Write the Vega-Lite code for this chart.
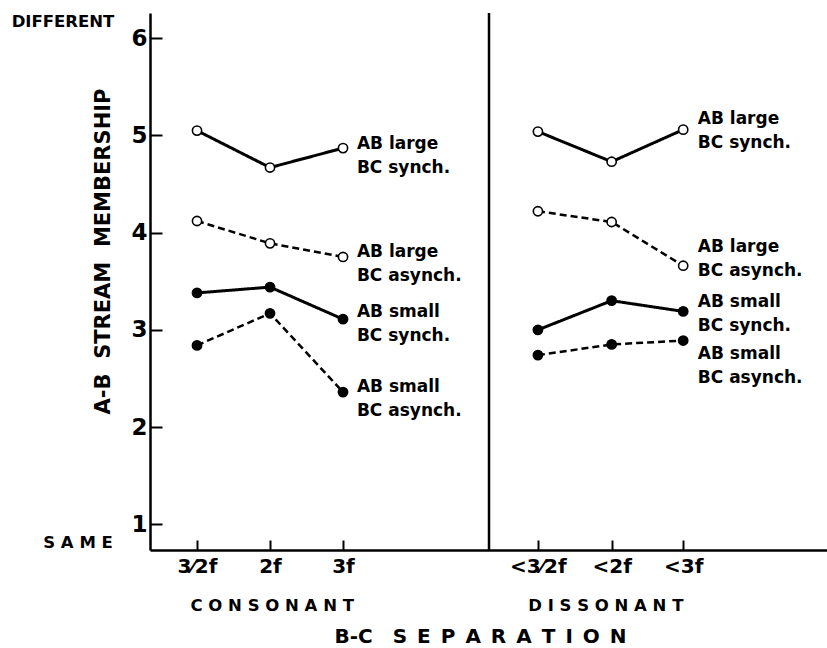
{
  "$schema": "https://vega.github.io/schema/vega-lite/v6.json",
  "width": 677,
  "height": 537,
  "autosize": {"type": "none"},
  "padding": {"left": 150, "top": 13, "right": 0, "bottom": 98},
  "background": "white",
  "config": {
    "view": {"stroke": null},
    "font": "DejaVu Sans",
    "axis": {
      "domainColor": "black", "domainWidth": 2.5, "tickColor": "black", "tickWidth": 2,
      "labelColor": "black", "titleColor": "black", "grid": false,
      "labelFont": "DejaVu Sans", "titleFont": "DejaVu Sans", "labelFontWeight": "bold", "titleFontWeight": "bold"
    }
  },
  "datasets": {
    "points": [
      {"group": "consonant", "x": 1, "ab": "large", "bc": "synch", "y": 5.05},
      {"group": "consonant", "x": 2, "ab": "large", "bc": "synch", "y": 4.67},
      {"group": "consonant", "x": 3, "ab": "large", "bc": "synch", "y": 4.87},
      {"group": "consonant", "x": 1, "ab": "large", "bc": "asynch", "y": 4.12},
      {"group": "consonant", "x": 2, "ab": "large", "bc": "asynch", "y": 3.89},
      {"group": "consonant", "x": 3, "ab": "large", "bc": "asynch", "y": 3.75},
      {"group": "consonant", "x": 1, "ab": "small", "bc": "synch", "y": 3.38},
      {"group": "consonant", "x": 2, "ab": "small", "bc": "synch", "y": 3.44},
      {"group": "consonant", "x": 3, "ab": "small", "bc": "synch", "y": 3.11},
      {"group": "consonant", "x": 1, "ab": "small", "bc": "asynch", "y": 2.84},
      {"group": "consonant", "x": 2, "ab": "small", "bc": "asynch", "y": 3.17},
      {"group": "consonant", "x": 3, "ab": "small", "bc": "asynch", "y": 2.36},
      {"group": "dissonant", "x": 5.67, "ab": "large", "bc": "synch", "y": 5.04},
      {"group": "dissonant", "x": 6.68, "ab": "large", "bc": "synch", "y": 4.73},
      {"group": "dissonant", "x": 7.66, "ab": "large", "bc": "synch", "y": 5.06},
      {"group": "dissonant", "x": 5.67, "ab": "large", "bc": "asynch", "y": 4.22},
      {"group": "dissonant", "x": 6.68, "ab": "large", "bc": "asynch", "y": 4.11},
      {"group": "dissonant", "x": 7.66, "ab": "large", "bc": "asynch", "y": 3.66},
      {"group": "dissonant", "x": 5.67, "ab": "small", "bc": "synch", "y": 3.0},
      {"group": "dissonant", "x": 6.68, "ab": "small", "bc": "synch", "y": 3.3},
      {"group": "dissonant", "x": 7.66, "ab": "small", "bc": "synch", "y": 3.19},
      {"group": "dissonant", "x": 5.67, "ab": "small", "bc": "asynch", "y": 2.74},
      {"group": "dissonant", "x": 6.68, "ab": "small", "bc": "asynch", "y": 2.85},
      {"group": "dissonant", "x": 7.66, "ab": "small", "bc": "asynch", "y": 2.89}
    ],
    "labels": [
      {"x": 3.19, "y": 4.86, "text": "AB large\nBC synch."},
      {"x": 3.19, "y": 3.75, "text": "AB large\nBC asynch."},
      {"x": 3.19, "y": 3.13, "text": "AB small\nBC synch."},
      {"x": 3.19, "y": 2.36, "text": "AB small\nBC asynch."},
      {"x": 7.86, "y": 5.12, "text": "AB large\nBC synch."},
      {"x": 7.86, "y": 3.80, "text": "AB large\nBC asynch."},
      {"x": 7.86, "y": 3.24, "text": "AB small\nBC synch."},
      {"x": 7.86, "y": 2.70, "text": "AB small\nBC asynch."}
    ],
    "notes": [
      {"x": -0.836, "y": 6.167, "text": "DIFFERENT"},
      {"x": -0.63, "y": 0.807, "text": "S A M E"},
      {"x": 2.03, "y": 0.159, "text": "C O N S O N A N T"},
      {"x": 6.6, "y": 0.159, "text": "D I S S O N A N T"}
    ],
    "divider": [{"x": 5}]
  },
  "layer": [
    {
      "data": {"name": "points"},
      "mark": {"type": "line", "color": "black"},
      "encoding": {
        "x": {
          "field": "x", "type": "quantitative",
          "scale": {"domain": [0.356, 9.63], "nice": false, "zero": false},
          "axis": {
            "values": [1, 2, 3, 5.67, 6.68, 7.66],
            "labelExpr": "datum.value == 1 ? '3⁄2f' : datum.value == 2 ? '2f' : datum.value == 3 ? '3f' : datum.value == 5.67 ? '<3⁄2f' : datum.value == 6.68 ? '<2f' : '<3f'",
            "tickSize": -10, "labelPadding": 16, "labelFontSize": 20,
            "title": "B‑C\u2003S\u2002E\u2002P\u2002A\u2002R\u2002A\u2002T\u2002I\u2002O\u2002N", "titleFontSize": 20,
            "titleX": 330, "titleY": 92, "titleAlign": "center", "titleBaseline": "alphabetic"
          }
        },
        "y": {
          "field": "y", "type": "quantitative",
          "scale": {"domain": [0.735, 6.26], "nice": false, "zero": false},
          "axis": {
            "values": [1, 2, 3, 4, 5, 6], "format": "d",
            "tickSize": -12, "labelPadding": 15, "labelFontSize": 23,
            "title": "A‑B\u00a0\u00a0STREAM\u00a0\u00a0MEMBERSHIP", "titleFontSize": 21,
            "titleX": -47, "titleY": 238, "titleAngle": -90, "titleAlign": "center", "titleBaseline": "middle"
          }
        },
        "detail": [{"field": "group"}, {"field": "ab"}],
        "strokeDash": {"field": "bc", "type": "nominal", "scale": {"domain": ["synch", "asynch"], "range": [[1, 0], [7, 4]]}, "legend": null},
        "strokeWidth": {"field": "bc", "type": "nominal", "scale": {"domain": ["synch", "asynch"], "range": [3, 2.5]}, "legend": null}
      }
    },
    {
      "data": {"name": "points"},
      "mark": {"type": "point", "shape": "circle", "stroke": "black", "strokeWidth": 1.6, "filled": false, "opacity": 1},
      "encoding": {
        "x": {"field": "x", "type": "quantitative"},
        "y": {"field": "y", "type": "quantitative"},
        "fill": {"field": "ab", "type": "nominal", "scale": {"domain": ["large", "small"], "range": ["white", "black"]}, "legend": null},
        "size": {"value": 85}
      }
    },
    {
      "data": {"name": "divider"},
      "mark": {"type": "rule", "color": "black", "strokeWidth": 2.5},
      "encoding": {"x": {"field": "x", "type": "quantitative"}}
    },
    {
      "data": {"name": "labels"},
      "mark": {"type": "text", "align": "left", "baseline": "alphabetic", "lineBreak": "\n", "lineHeight": 24, "font": "DejaVu Sans", "fontWeight": "bold", "fontSize": 17, "color": "black"},
      "encoding": {
        "x": {"field": "x", "type": "quantitative"},
        "y": {"field": "y", "type": "quantitative"},
        "text": {"field": "text", "type": "nominal"}
      }
    },
    {
      "data": {"name": "notes"},
      "mark": {"type": "text", "align": "center", "baseline": "middle", "font": "DejaVu Sans", "fontWeight": "bold", "fontSize": 16.5, "color": "black"},
      "encoding": {
        "x": {"field": "x", "type": "quantitative"},
        "y": {"field": "y", "type": "quantitative"},
        "text": {"field": "text", "type": "nominal"}
      }
    }
  ]
}
